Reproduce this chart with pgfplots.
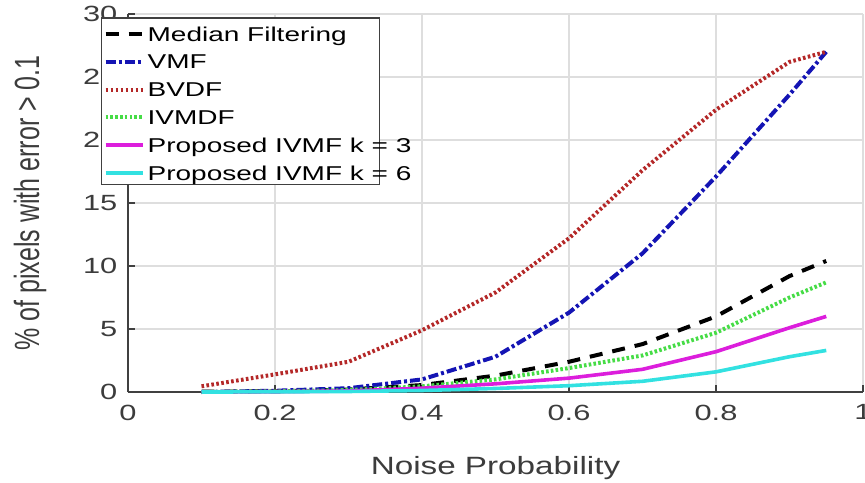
\documentclass[border=0pt]{standalone}
\usepackage{fontspec}
\setmainfont{Liberation Sans}
\newfontfamily\stretched[FakeStretch=1.4]{Liberation Sans}
\newfontfamily\stretchedx[FakeStretch=1.33]{Liberation Sans}
\usepackage{pgfplots}
\pgfplotsset{compat=1.18}
\definecolor{axgray}{RGB}{64,64,64}
\definecolor{tickgray}{RGB}{60,60,60}
\definecolor{gridgray}{RGB}{222,222,222}
\definecolor{vmfblue}{RGB}{20,20,180}
\definecolor{bvdfred}{RGB}{180,40,40}
\definecolor{ivgreen}{RGB}{70,220,70}
\definecolor{magentaP}{RGB}{220,30,220}
\definecolor{cyanP}{RGB}{50,225,225}
\newcommand{\lent}[1]{\rlap{#1}\rule{114pt}{0pt}}
\begin{document}
\begin{tikzpicture}
\useasboundingbox (-64pt,-45pt) rectangle (368.5pt,196pt);
\begin{axis}[
  scale only axis, width=367.5pt, height=189pt,
  xmin=0, xmax=1, ymin=0, ymax=30,
  xtick={0,0.2,0.4,0.6,0.8,1},
  ytick={0,5,10,15,20,25,30},
  axis x line=bottom, axis y line=left,
  axis line style={-, axgray, line width=0.8pt},
  tick align=inside, major tick length=3.5pt,
  tick style={axgray, line width=0.6pt},
  grid=major, major grid style={gridgray, line width=0.6pt},
  /pgf/number format/assume math mode=true,
  ticklabel style={font=\stretched\fontsize{11}{13}\selectfont, text=tickgray},
  xticklabel style={yshift=-2.8pt},
  yticklabel style={xshift=-1.8pt},
  xlabel={Noise Probability},
  ylabel={\scalebox{1}[1.4]{\% of pixels with error > 0.1}},
  every axis x label/.style={at={(axis description cs:0.5,0)}, yshift=-38pt, anchor=center, text=tickgray, font=\stretchedx\fontsize{12.5}{15}\selectfont},
  every axis y label/.style={at={(axis description cs:0,0.5)}, xshift=-49pt, rotate=90, anchor=center, text=tickgray, font=\fontsize{12.5}{15}\selectfont},
  clip=false,
  legend style={at={(axis description cs:-0.0367,0.991)}, anchor=north west,
    draw=axgray, line width=0.6pt, fill=white, inner xsep=1pt, inner ysep=0pt,
    row sep=0pt, column sep=0.5pt, font=\stretched\fontsize{10}{12}\selectfont,
    cells={anchor=base west},
    nodes={inner xsep=1pt, inner ysep=0pt, text height=11.5pt, text depth=2.4pt}},
  legend image code/.code={\draw[#1] (0pt,3.5pt) -- (18.5pt,3.5pt);},
]
\addplot[black, line width=2pt, dash pattern=on 6.5pt off 5pt] coordinates {
 (0.1,0.02) (0.2,0.05) (0.3,0.2) (0.4,0.55) (0.5,1.3) (0.6,2.4) (0.7,3.8) (0.8,6.0) (0.9,9.2) (0.95,10.4)};
\addlegendentry{\lent{Median Filtering}}
\addplot[vmfblue, line width=2pt, dash pattern=on 5pt off 1.5pt on 1.5pt off 1.5pt] coordinates {
 (0.1,0.0) (0.2,0.1) (0.3,0.3) (0.4,1.0) (0.5,2.8) (0.6,6.3) (0.7,11.0) (0.8,17.1) (0.9,23.6) (0.95,27.0)};
\addlegendentry{\lent{VMF}}
\addplot[bvdfred, line width=2pt, dash pattern=on 1.3pt off 1.2pt] coordinates {
 (0.1,0.45) (0.2,1.4) (0.3,2.4) (0.4,4.9) (0.5,7.9) (0.6,12.2) (0.7,17.6) (0.8,22.4) (0.9,26.2) (0.95,27.0)};
\addlegendentry{\lent{BVDF}}
\addplot[ivgreen, line width=2pt, dash pattern=on 1.3pt off 1.1pt] coordinates {
 (0.1,0.0) (0.2,0.05) (0.3,0.15) (0.4,0.45) (0.5,1.0) (0.6,1.9) (0.7,2.9) (0.8,4.7) (0.9,7.5) (0.95,8.7)};
\addlegendentry{\lent{IVMDF}}
\addplot[magentaP, line width=1.8pt] coordinates {
 (0.1,0.0) (0.2,0.02) (0.3,0.08) (0.4,0.3) (0.5,0.65) (0.6,1.1) (0.7,1.8) (0.8,3.2) (0.9,5.1) (0.95,6.0)};
\addlegendentry{\lent{Proposed IVMF k = 3}}
\addplot[cyanP, line width=1.8pt] coordinates {
 (0.1,0.0) (0.2,0.01) (0.3,0.04) (0.4,0.12) (0.5,0.28) (0.6,0.5) (0.7,0.85) (0.8,1.6) (0.9,2.8) (0.95,3.3)};
\addlegendentry{\lent{Proposed IVMF k = 6}}
\end{axis}
\end{tikzpicture}
\end{document}
